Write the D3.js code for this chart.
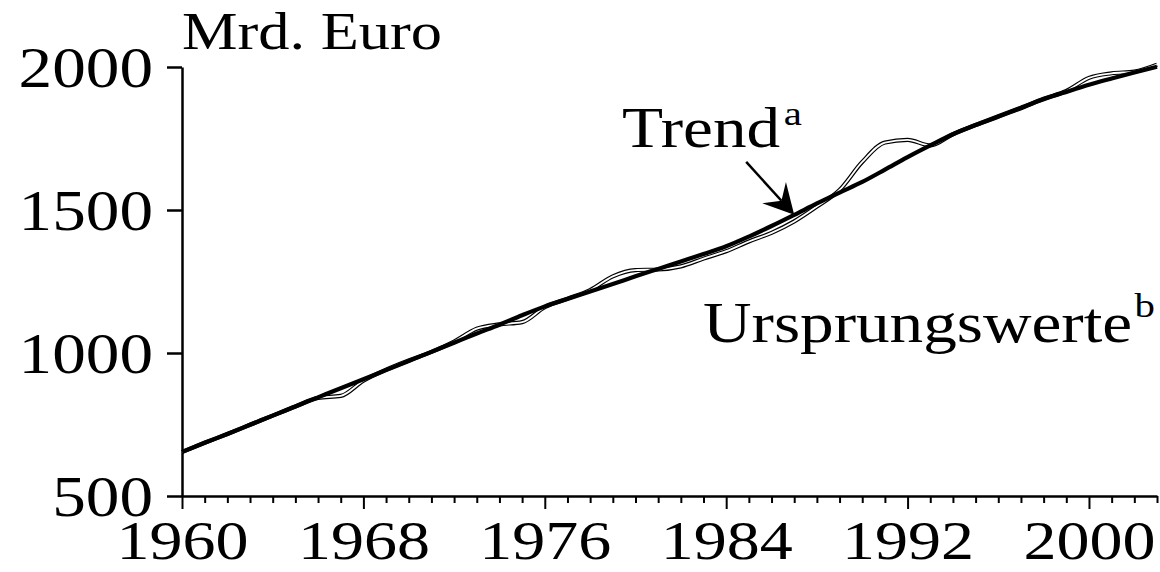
<!doctype html>
<html>
  <head>
    <meta charset="utf-8">
    <title>Trend und Ursprungswerte</title>
    <style>
      * { margin: 0; padding: 0; }
      body { background: #fff; }
      svg { display: block; }
    </style>
    <script src="https://d3js.org/d3.v7.min.js"></script>
  </head>
  <body>
    <div id="chart"></div>
    <script>
    // jahre 1960 - 2003
    const years = d3.range(1960, 2004);
    // Trend (Mrd. Euro)
    const trendValues = [654, 686, 717, 749, 781, 813, 845, 877, 908, 940,
      972, 1004, 1036, 1068, 1099, 1132, 1163, 1189, 1215, 1241,
      1268, 1294, 1320, 1346, 1373, 1407, 1444, 1483, 1523, 1561,
      1598, 1641, 1685, 1726, 1765, 1797, 1828, 1858, 1887, 1913,
      1938, 1960, 1981, 2001];
    // Ursprungswerte (Mrd. Euro)
    const originalValues = [654, 686, 717, 749, 781, 813, 843, 850, 903, 942,
      974, 1004, 1040, 1085, 1100, 1108, 1160, 1190, 1220, 1268,
      1290, 1292, 1303, 1330, 1356, 1390, 1420, 1460, 1512, 1570,
      1668, 1736, 1745, 1726, 1765, 1797, 1826, 1856, 1889, 1916,
      1962, 1978, 1984, 2008];
    const yTicks = [500, 1000, 1500, 2000];
    const xLabelYears = [1960, 1968, 1976, 1984, 1992, 2000];

    const W = 1160, H = 572;
    const FONT = "Liberation Serif, Times New Roman, serif";
    const STRETCH = "scale(1.2,1)";

    const svg = d3.select("#chart").append("svg")
      .attr("width", W).attr("height", H);

    const x = d3.scaleLinear().domain([1960, 2003]).range([182, 1157]);
    const y = d3.scaleLinear().domain([500, 2000]).range([496, 67]);

    // x achse, jedes jahr ein strich, alle 8 jahre laenger
    const gx = svg.append("g")
      .attr("transform", "translate(0," + y(500) + ")")
      .call(d3.axisBottom(x)
        .tickValues(years)
        .tickSize(7)
        .tickSizeOuter(0)
        .tickFormat(d => xLabelYears.includes(d) ? String(d) : ""));
    gx.select(".domain").attr("stroke-width", 2.5);
    gx.selectAll(".tick line").attr("stroke-width", 2)
      .filter(d => xLabelYears.includes(d)).attr("y2", 13);
    gx.selectAll(".tick text")
      .attr("y", null).attr("dy", null)
      .attr("transform", "translate(0,63) " + STRETCH)
      .attr("font-family", FONT).attr("font-size", 55).attr("fill", "#000");

    // y achse
    const gy = svg.append("g")
      .attr("transform", "translate(" + x(1960) + ",0)")
      .call(d3.axisLeft(y).tickValues(yTicks).tickSize(15).tickSizeOuter(0)
        .tickFormat(d3.format("d")));
    gy.select(".domain").attr("stroke-width", 2.5);
    gy.selectAll(".tick line").attr("stroke-width", 2.5);
    gy.selectAll(".tick text")
      .attr("x", null).attr("dy", "0.35em")
      .attr("transform", "translate(-29,0) " + STRETCH)
      .attr("font-family", FONT).attr("font-size", 56).attr("fill", "#000");

    const line = d3.line()
      .x((d, i) => x(years[i]))
      .y(d => y(d))
      .curve(d3.curveMonotoneX);

    // Ursprungswerte: duenne doppellinie (schwarz mit weissem kern)
    svg.append("path").datum(originalValues)
      .attr("d", line).attr("fill", "none")
      .attr("stroke", "#000").attr("stroke-width", 4.2);
    svg.append("path").datum(originalValues)
      .attr("d", line).attr("fill", "none")
      .attr("stroke", "#fff").attr("stroke-width", 1.8);

    // Trend
    svg.append("path").datum(trendValues)
      .attr("d", line).attr("fill", "none")
      .attr("stroke", "#000").attr("stroke-width", 4.2)
      .attr("stroke-linejoin", "round");

    // pfeil auf trend 1987
    const tip = [x(1987), y(trendValues[years.indexOf(1987)])];
    const start = [tip[0] - 48, tip[1] - 53];
    let dx = tip[0] - start[0], dy = tip[1] - start[1];
    const len = Math.sqrt(dx * dx + dy * dy);
    dx /= len; dy /= len;
    const px = -dy, py = dx;
    const notch = [tip[0] - dx * 19, tip[1] - dy * 19];
    svg.append("line")
      .attr("x1", start[0]).attr("y1", start[1])
      .attr("x2", notch[0]).attr("y2", notch[1])
      .attr("stroke", "#000").attr("stroke-width", 2.5);
    svg.append("path")
      .attr("d", "M" + tip +
        "L" + [tip[0] - dx * 30 + px * 16, tip[1] - dy * 30 + py * 16] +
        "L" + notch +
        "L" + [tip[0] - dx * 30 - px * 16, tip[1] - dy * 30 - py * 16] + "Z")
      .attr("fill", "#000");

    // beschriftungen
    svg.append("text")
      .attr("transform", "translate(182,49) " + STRETCH)
      .attr("font-family", FONT).attr("font-size", 52)
      .text("Mrd. Euro");

    const t1 = svg.append("text")
      .attr("transform", "translate(622,147) " + STRETCH)
      .attr("font-family", FONT).attr("font-size", 56);
    t1.append("tspan").text("Trend");
    t1.append("tspan").attr("dx", 3).attr("dy", -22).attr("font-size", 34).text("a");

    const t2 = svg.append("text")
      .attr("transform", "translate(703,342) " + STRETCH)
      .attr("font-family", FONT).attr("font-size", 56);
    t2.append("tspan").text("Ursprungswerte");
    t2.append("tspan").attr("dx", 2).attr("dy", -25).attr("font-size", 34).text("b");
    </script>
  </body>
</html>
